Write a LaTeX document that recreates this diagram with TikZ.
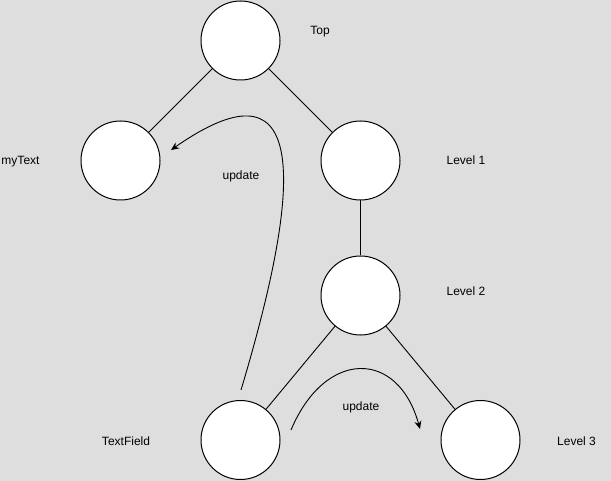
\documentclass[tikz,border=0pt]{standalone}
\usepackage{fontspec}
\setmainfont{Liberation Sans}
\usetikzlibrary{arrows.meta}
\definecolor{canvas}{HTML}{DEDEDE}

\begin{document}
\begin{tikzpicture}[x=1pt,y=-1pt,
    vertex/.style={circle,draw=black,fill=white,line width=1pt,minimum size=79pt,inner sep=0pt},
    tag/.style={font=\fontsize{12}{14}\selectfont,inner sep=0pt,anchor=base},
    edge/.style={draw=black,line width=0.9pt},
    flow/.style={draw=black,line width=0.9pt,-{Stealth[length=8pt,width=7pt]}}]
  % background and frame
  \fill[canvas] (0,0) rectangle (611,481);
  \useasboundingbox (0,0) rectangle (611,481);
  % nodes of the tree
  \node[vertex] (top) at (240.5,40.5) {};
  \node[vertex] (mytext) at (120.5,160.5) {};
  \node[vertex] (lvla) at (360.5,160.5) {};
  \node[vertex] (lvlb) at (360.5,295.5) {};
  \node[vertex] (field) at (240.5,440) {};
  \node[vertex] (lvlc) at (480.5,440) {};
  % labels
  \node[tag] (toplbl) at (320,35) {Top};
  \node[tag] (mytextlbl) at (20.5,165) {myText};
  \node[tag] (lvlalbl) at (466,165) {Level 1};
  \node[tag] (lvlblbl) at (466,295.5) {Level 2};
  \node[tag] (fieldlbl) at (126,445) {TextField};
  \node[tag] (lvlclbl) at (576.5,445) {Level 3};
  \node[tag] (upalbl) at (241,180) {update};
  \node[tag] (upblbl) at (361,410) {update};
  % tree edges
  \draw[edge] (top) -- (mytext);
  \draw[edge] (top) -- (lvla);
  \draw[edge] (lvla) -- (lvlb);
  \draw[edge] (lvlb) -- (field);
  \draw[edge] (lvlb) -- (lvlc);
  % update arrows
  \coordinate (upastart) at (241,390);
  \coordinate (upaend) at (171,150);
  \coordinate (upbstart) at (291,430);
  \coordinate (upbend) at (420,429);
  \draw[flow] (upastart) .. controls (310,160) and (300,60) .. (upaend);
  \draw[flow] (upbstart) .. controls (325,349) and (398,349) .. (upbend);
\end{tikzpicture}
\end{document}
